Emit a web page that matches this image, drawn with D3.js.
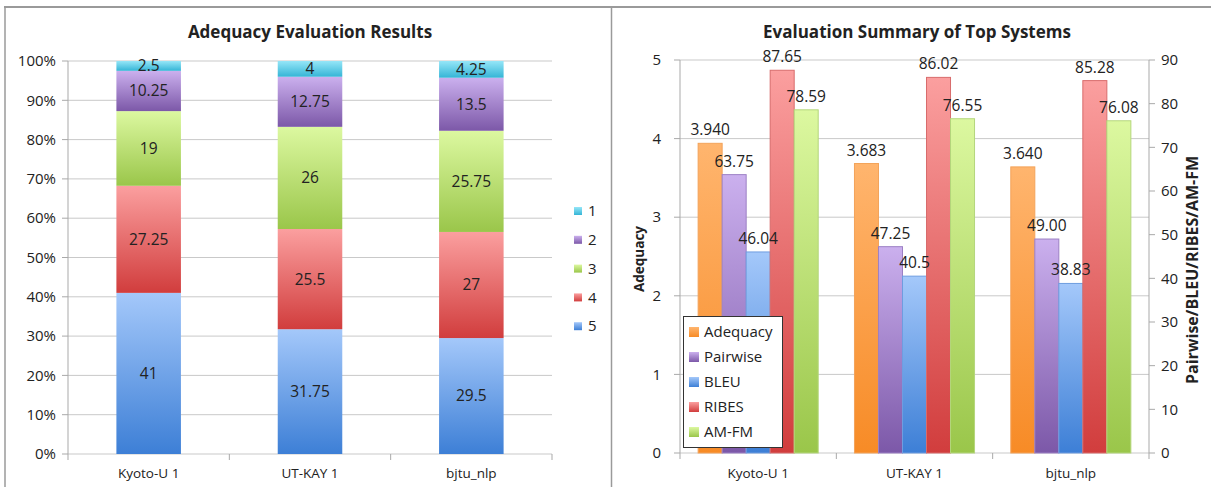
<!DOCTYPE html>
<html><head><meta charset="utf-8">
<script src="https://cdn.jsdelivr.net/npm/d3@7"></script>
<style>body{margin:0;background:#fff}svg{display:block}text{font-family:"Open Sans",sans-serif;fill:#222}</style>
</head><body>
<svg id="c" width="1211" height="487"></svg>
<script>
// ---- data ----
const systems = ["Kyoto-U 1", "UT-KAY 1", "bjtu_nlp"];
const levels = ["5", "4", "3", "2", "1"];
const level5 = [41, 31.75, 29.5];
const level4 = [27.25, 25.5, 27];
const level3 = [19, 26, 25.75];
const level2 = [10.25, 12.75, 13.5];
const level1 = [2.5, 4, 4.25];
const pctTicks = [0, 10, 20, 30, 40, 50, 60, 70, 80, 90, 100];

const metrics = ["Adequacy", "Pairwise", "BLEU", "RIBES", "AM-FM"];
const adequacy = [3.940, 3.683, 3.640];
const pairwise = [63.75, 47.25, 49.00];
const bleu = [46.04, 40.5, 38.83];
const ribes = [87.65, 86.02, 85.28];
const amfm = [78.59, 76.55, 76.08];
const leftTicks = [0, 1, 2, 3, 4, 5];
const rightTicks = [0, 10, 20, 30, 40, 50, 60, 70, 80, 90];

const svg = d3.select("#c");
const defs = svg.append("defs");
const palette = {
  "5": ["#a4c8fa", "#3d7fd6"], "4": ["#fb9f9f", "#d13d3d"], "3": ["#dcf8a0", "#9ac64a"],
  "2": ["#cbb0ee", "#7c58a8"], "1": ["#95e6f8", "#35b5d6"],
  "Adequacy": ["#ffb56e", "#f78b26"], "Pairwise": ["#cbb0ee", "#7c58a8"], "BLEU": ["#a4c8fa", "#3d7fd6"],
  "RIBES": ["#fb9f9f", "#d13d3d"], "AM-FM": ["#dcf8a0", "#9ac64a"]
};
const strokeCol = {"5":"#6f9de0","4":"#d86c6c","3":"#b4d67c","2":"#9c80c4","1":"#6ccbe6",
  "Adequacy":"#f3a35a","Pairwise":"#9c80c4","BLEU":"#6f9de0","RIBES":"#d86c6c","AM-FM":"#b4d67c"};
Object.entries(palette).forEach(([k, c], i) => {
  const g = defs.append("linearGradient").attr("id", "g" + i).attr("x1", 0).attr("y1", 0).attr("x2", 0).attr("y2", 1);
  g.append("stop").attr("offset", "0%").attr("stop-color", c[0]);
  g.append("stop").attr("offset", "100%").attr("stop-color", c[1]);
  palette[k].id = "url(#g" + i + ")";
});

const TICK = 15, DATA = 15.5, CAT = 13.5, LEG = 15;

// frame
svg.append("line").attr("x1", 4).attr("x2", 1211).attr("y1", 7).attr("y2", 7).attr("stroke", "#9a9a9a").attr("stroke-width", 2);
svg.append("line").attr("x1", 5).attr("x2", 5).attr("y1", 7).attr("y2", 487).attr("stroke", "#9a9a9a").attr("stroke-width", 1.5);
svg.append("line").attr("x1", 611.5).attr("x2", 611.5).attr("y1", 7).attr("y2", 487).attr("stroke", "#9a9a9a").attr("stroke-width", 1.5);

// ---- Left chart ----
const L = svg.append("g");
const yL = d3.scaleLinear().domain([0, 100]).range([454, 61]);
const xL = d3.scaleBand().domain(systems).range([68, 552]).paddingInner(0.6).paddingOuter(0.3);
L.append("text").attr("x", 310).attr("y", 38).attr("text-anchor", "middle").attr("font-weight", "bold").attr("font-size", 17).text("Adequacy Evaluation Results");
L.selectAll(".grid").data(pctTicks).join("line").attr("x1", 68).attr("x2", 552)
  .attr("y1", d => yL(d)).attr("y2", d => yL(d)).attr("stroke", "#c9c9c9");
L.append("line").attr("x1", 68).attr("x2", 68).attr("y1", yL(100)).attr("y2", yL(0)).attr("stroke", "#a9a9a9");
L.selectAll(".tk").data(pctTicks).join("line").attr("x1", 62).attr("x2", 68).attr("y1", d => yL(d)).attr("y2", d => yL(d)).attr("stroke", "#a9a9a9");
L.selectAll(".tl").data(pctTicks).join("text").attr("x", 56).attr("y", d => yL(d)).attr("dy", "0.35em")
  .attr("text-anchor", "end").attr("font-size", TICK).text(d => d + "%");
const bL = [68, ...systems.map(s => xL(s) + xL.bandwidth() / 2 + xL.step() / 2)];
L.selectAll(".bt").data(bL).join("line").attr("x1", d => d).attr("x2", d => d).attr("y1", 454).attr("y2", 460).attr("stroke", "#a9a9a9");
L.selectAll(".cl").data(systems).join("text").attr("x", d => xL(d) + xL.bandwidth() / 2).attr("y", 478)
  .attr("text-anchor", "middle").attr("font-size", CAT).text(d => d);

const levelData = {"5": level5, "4": level4, "3": level3, "2": level2, "1": level1};
const stackRows = systems.map((s, i) => { const o = {sys: s}; levels.forEach(l => o[l] = levelData[l][i]); return o; });
const stacked = d3.stack().keys(levels)(stackRows);
stacked.forEach(layer => {
  const k = layer.key;
  const g = L.append("g");
  g.selectAll("rect").data(layer).join("rect")
    .attr("x", d => xL(d.data.sys)).attr("width", xL.bandwidth())
    .attr("y", d => yL(d[1])).attr("height", d => yL(d[0]) - yL(d[1]))
    .attr("fill", palette[k].id);
  g.selectAll("text").data(layer).join("text")
    .attr("x", d => xL(d.data.sys) + xL.bandwidth() / 2).attr("y", d => yL((d[0] + d[1]) / 2)).attr("dy", "0.35em")
    .attr("text-anchor", "middle").attr("font-size", DATA).text(d => String(d.data[k]));
});
// left legend
const legL = L.append("g");
levels.slice().reverse().forEach((l, i) => {
  legL.append("rect").attr("x", 574).attr("y", 207 + i * 28.8).attr("width", 8).attr("height", 8).attr("fill", palette[l].id);
  legL.append("text").attr("x", 588).attr("y", 211 + i * 28.8).attr("dy", "0.35em").attr("font-size", LEG).text(l);
});

// ---- Right chart ----
const R = svg.append("g");
const yA = d3.scaleLinear().domain([0, 5]).range([453, 60]);
const yB = d3.scaleLinear().domain([0, 90]).range([453, 60]);
const x0 = d3.scaleBand().domain(systems).range([680, 1149]).paddingInner(0.232).paddingOuter(0.116);
const x1 = d3.scaleBand().domain(metrics).range([0, x0.bandwidth()]);
R.append("text").attr("x", 917).attr("y", 38).attr("text-anchor", "middle").attr("font-weight", "bold").attr("font-size", 17).text("Evaluation Summary of Top Systems");
R.selectAll(".grid").data(leftTicks).join("line").attr("x1", 680).attr("x2", 1149)
  .attr("y1", d => yA(d)).attr("y2", d => yA(d)).attr("stroke", "#c9c9c9");
R.append("line").attr("x1", 680).attr("x2", 680).attr("y1", yA(5)).attr("y2", yA(0)).attr("stroke", "#a9a9a9");
R.append("line").attr("x1", 1149).attr("x2", 1149).attr("y1", yB(90)).attr("y2", yB(0)).attr("stroke", "#a9a9a9");
R.selectAll(".tka").data(leftTicks).join("line").attr("x1", 674).attr("x2", 680).attr("y1", d => yA(d)).attr("y2", d => yA(d)).attr("stroke", "#a9a9a9");
R.selectAll(".tla").data(leftTicks).join("text").attr("x", 661).attr("y", d => yA(d)).attr("dy", "0.35em")
  .attr("text-anchor", "end").attr("font-size", TICK).text(d => d);
R.selectAll(".tkb").data(rightTicks).join("line").attr("x1", 1149).attr("x2", 1155).attr("y1", d => yB(d)).attr("y2", d => yB(d)).attr("stroke", "#a9a9a9");
R.selectAll(".tlb").data(rightTicks).join("text").attr("x", 1161).attr("y", d => yB(d)).attr("dy", "0.35em")
  .attr("text-anchor", "start").attr("font-size", TICK).text(d => d);
const bR = [680, ...systems.map(s => x0(s) + x0.bandwidth() / 2 + x0.step() / 2)];
R.selectAll(".bt").data(bR).join("line").attr("x1", d => d).attr("x2", d => d).attr("y1", 453).attr("y2", 459).attr("stroke", "#a9a9a9");
R.selectAll(".cl").data(systems).join("text").attr("x", d => x0(d) + x0.bandwidth() / 2).attr("y", 478)
  .attr("text-anchor", "middle").attr("font-size", CAT).text(d => d);
R.append("text").attr("transform", "translate(644,259) rotate(-90)").attr("text-anchor", "middle")
  .attr("font-weight", "bold").attr("font-size", 13.5).text("Adequacy");
R.append("text").attr("transform", "translate(1198,270) rotate(-90)").attr("text-anchor", "middle")
  .attr("font-weight", "bold").attr("font-size", 16).text("Pairwise/BLEU/RIBES/AM-FM");

const seriesVals = {"Adequacy": adequacy, "Pairwise": pairwise, "BLEU": bleu, "RIBES": ribes, "AM-FM": amfm};
const fmt = {"Adequacy": d3.format(".3f"), "Pairwise": d3.format(".2f"), "BLEU": d => String(d), "RIBES": d => String(d), "AM-FM": d => String(d)};
metrics.forEach(m => {
  const ys = m === "Adequacy" ? yA : yB;
  const g = R.append("g");
  const data = systems.map((s, i) => ({sys: s, v: seriesVals[m][i]}));
  g.selectAll("rect").data(data).join("rect")
    .attr("x", d => x0(d.sys) + x1(m)).attr("width", x1.bandwidth())
    .attr("y", d => ys(d.v)).attr("height", d => ys(0) - ys(d.v))
    .attr("fill", palette[m].id).attr("stroke", strokeCol[m]).attr("stroke-width", 1);
});
metrics.forEach(m => {
  const ys = m === "Adequacy" ? yA : yB;
  const data = systems.map((s, i) => ({sys: s, v: seriesVals[m][i]}));
  R.append("g").selectAll("text").data(data).join("text")
    .attr("x", d => x0(d.sys) + x1(m) + x1.bandwidth() / 2).attr("y", d => ys(d.v) - 8)
    .attr("text-anchor", "middle").attr("font-size", DATA).text(d => fmt[m](d.v));
});
// right legend
const legR = R.append("g");
legR.append("rect").attr("x", 683.5).attr("y", 316.5).attr("width", 99).attr("height", 131).attr("fill", "#fff").attr("stroke", "#333");
metrics.forEach((m, i) => {
  legR.append("rect").attr("x", 689).attr("y", 327 + i * 25).attr("width", 10).attr("height", 10).attr("fill", palette[m].id);
  legR.append("text").attr("x", 704).attr("y", 332 + i * 25).attr("dy", "0.35em").attr("font-size", LEG).text(m);
});
</script>
</body></html>
